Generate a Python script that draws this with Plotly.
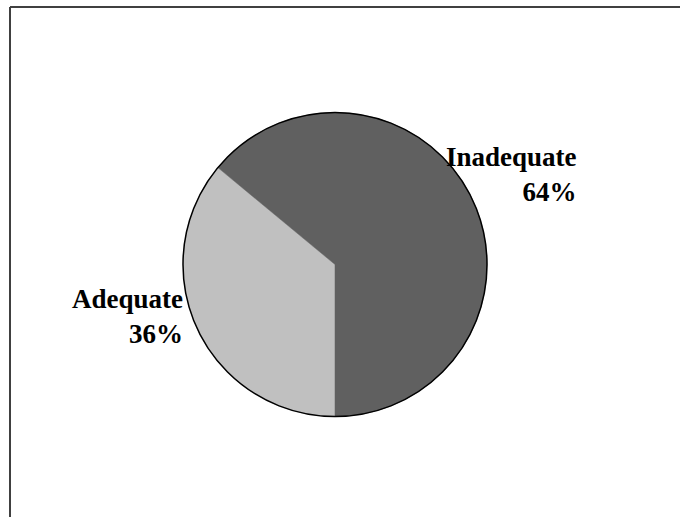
import plotly.graph_objects as go

labels = ["Adequate", "Inadequate"]
values = [36, 64]
colors = ["#C0C0C0", "#606060"]

total = sum(values)
pct = [f"{v / total:.0%}" for v in values]

W, H = 680, 517
cx, cy, r = 335, 264.5, 152
domain = dict(x=[(cx - r) / W, (cx + r) / W], y=[(H - cy - r) / H, (H - cy + r) / H])

fig = go.Figure()
fig.add_trace(go.Pie(
    labels=labels,
    values=values,
    sort=False,
    direction="clockwise",
    rotation=180,
    marker=dict(colors=colors, line=dict(color=colors, width=0.5)),
    textinfo="none",
    hoverinfo="label+percent",
    showlegend=False,
    domain=domain,
))
# outer outline only (whole pie as a single unfilled slice)
fig.add_trace(go.Pie(
    labels=["Total"],
    values=[total],
    sort=False,
    marker=dict(colors=["rgba(0,0,0,0)"], line=dict(color="#000000", width=1.5)),
    textinfo="none",
    hoverinfo="skip",
    showlegend=False,
    domain=domain,
))

font = dict(family="Liberation Serif, Times New Roman, serif", size=27, color="#000000")
# label positions (pixels: right edge x, top y)
label_pos = {"Adequate": (185, 282), "Inadequate": (579, 140)}
for lab, p in zip(labels, pct):
    x, y = label_pos[lab]
    fig.add_annotation(
        x=x / W, y=1 - y / H, xref="paper", yref="paper",
        xanchor="right", yanchor="top", align="right",
        text=f"<b>{lab}</b><br><b>{p}</b>",
        showarrow=False, font=font,
    )

# chart-area frame (top and left edges visible; right/bottom run off the page)
ytop = 1 - 7 / H
xleft = 10 / W
fig.add_shape(type="line", xref="paper", yref="paper",
              x0=xleft, x1=1.5, y0=ytop, y1=ytop,
              line=dict(color="#404040", width=2))
fig.add_shape(type="line", xref="paper", yref="paper",
              x0=xleft, x1=xleft, y0=-0.5, y1=ytop,
              line=dict(color="#404040", width=2))

fig.update_layout(
    width=W, height=H,
    margin=dict(l=0, r=0, t=0, b=0),
    paper_bgcolor="#FFFFFF",
    plot_bgcolor="#FFFFFF",
)

fig.write_html("out.html", config={"displayModeBar": False})

with open("out.html", "r", encoding="utf-8") as f:
    html = f.read()
html = html.replace("<head>", "<head><style>html,body{margin:0;padding:0;overflow:hidden;}</style>", 1)
with open("out.html", "w", encoding="utf-8") as f:
    f.write(html)
